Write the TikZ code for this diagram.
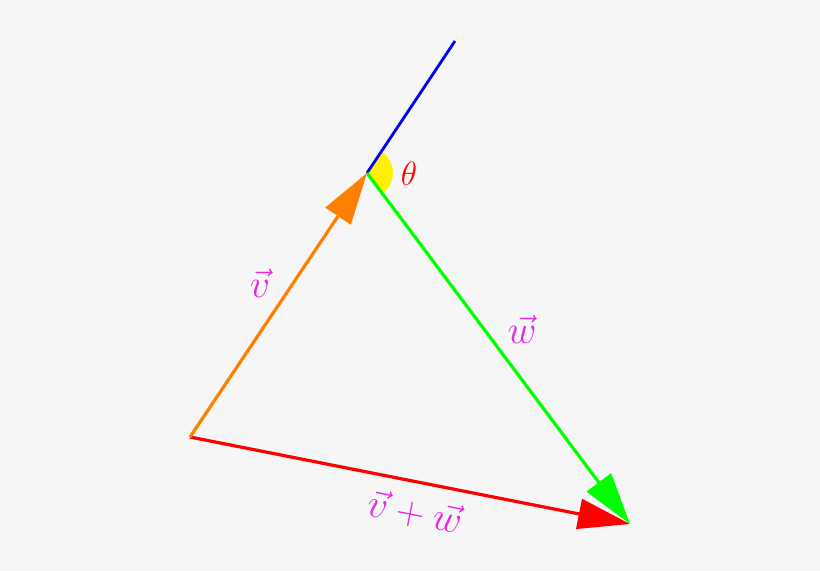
\documentclass[tikz,border=0pt]{standalone}
\usetikzlibrary{arrows.meta}
\definecolor{bg}{RGB}{246,246,246}
\definecolor{vorange}{RGB}{255,128,0}
\definecolor{vgreen}{RGB}{0,255,0}
\definecolor{lblmag}{RGB}{230,40,230}
\begin{document}
\begin{tikzpicture}[x=1pt,y=-1pt,
  vec/.style={line width=3.2pt, -{Triangle[length=52pt,width=30pt]}},
  lbl/.style={text=lblmag, font=\Huge, scale=1.6, inner sep=0pt}]
\fill[bg] (0,0) rectangle (820,571);
\useasboundingbox (0,0) rectangle (820,571);
\coordinate (O) at (190,437);
\coordinate (A) at (367,173);
\coordinate (B) at (630,524);
\coordinate (E) at (455,41);
\fill[yellow] (A) -- ++(-53.2:26) arc[start angle=-53.2, end angle=56.3, radius=26] -- cycle;
\draw[blue, line width=2.8pt] (A) -- (E);
\draw[vec, red] (O) -- (B);
\draw[vec, vgreen] (A) -- (B);
\draw[vec, vorange] (O) -- (A);
\node[text=red, font=\Huge, scale=1.35, inner sep=0pt] (th) at (409,174) {$\theta$};
\node[lbl] (lv) at (260,283) {$\vec{v}$};
\node[lbl] (lw) at (522,329) {$\vec{w}$};
\node[lbl, rotate=-11.2] (lvw) at (415,512) {$\vec{v}+\vec{w}$};
\end{tikzpicture}
\end{document}
